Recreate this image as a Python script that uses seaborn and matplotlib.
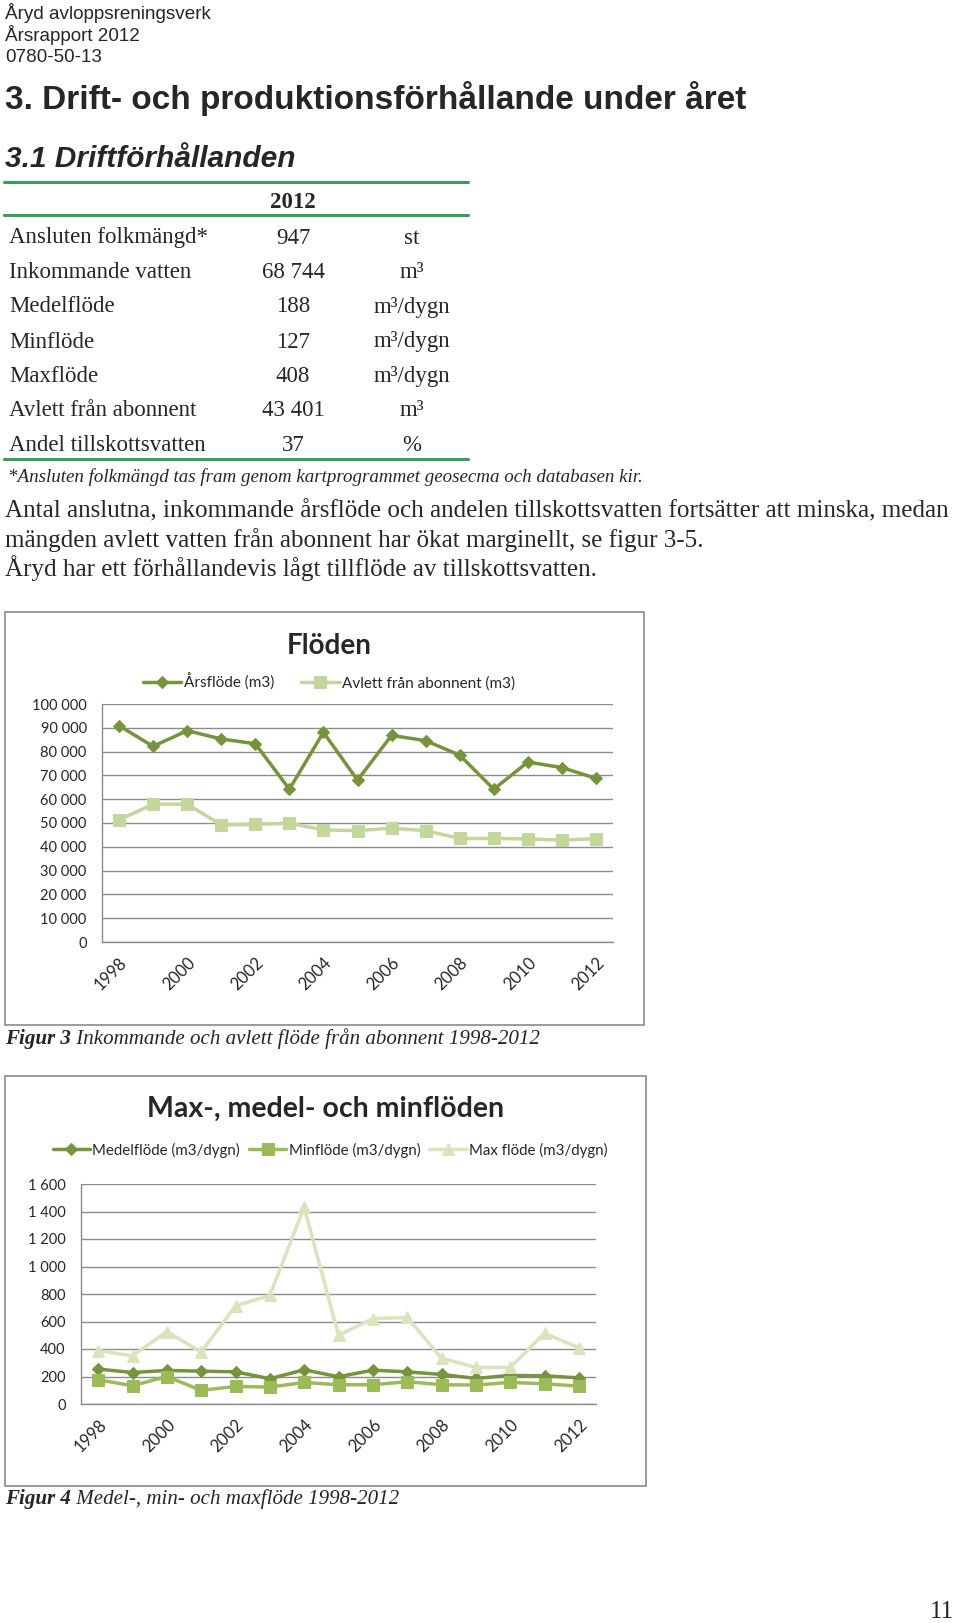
import numpy as np
import pandas as pd
import matplotlib
matplotlib.use("Agg")
import matplotlib.pyplot as plt
import seaborn as sns
from matplotlib.patches import Rectangle
from matplotlib.lines import Line2D
from matplotlib.ticker import FuncFormatter, FixedLocator

# ---------------- data ----------------
header_lines = ["Åryd avloppsreningsverk", "Årsrapport 2012", "0780-50-13"]
heading = "3. Drift- och produktionsförhållande under året"
subheading = "3.1 Driftförhållanden"

table_year = "2012"
table_labels = ["Ansluten folkmängd*", "Inkommande vatten", "Medelflöde", "Minflöde",
                "Maxflöde", "Avlett från abonnent", "Andel tillskottsvatten"]
table_values = ["947", "68 744", "188", "127", "408", "43 401", "37"]
table_units = ["st", "m³", "m³/dygn", "m³/dygn", "m³/dygn", "m³", "%"]
footnote = "*Ansluten folkmängd tas fram genom kartprogrammet geosecma och databasen kir."
paragraph = ["Antal anslutna, inkommande årsflöde och andelen tillskottsvatten fortsätter att minska, medan",
             "mängden avlett vatten från abonnent har ökat marginellt, se figur 3-5.",
             "Åryd har ett förhållandevis lågt tillflöde av tillskottsvatten."]

years = [1998, 1999, 2000, 2001, 2002, 2003, 2004, 2005, 2006, 2007, 2008, 2009, 2010, 2011, 2012]
year_ticks = [1998, 2000, 2002, 2004, 2006, 2008, 2010, 2012]

arsflode = [90900, 82200, 88800, 85300, 83300, 64200, 88100, 68000, 86800, 84600,
            78500, 64200, 75600, 73300, 68744]
avlett = [51300, 57900, 57900, 49200, 49400, 49900, 47100, 46800, 47800, 46800,
          43500, 43500, 43300, 42800, 43401]

medelflode = [254, 229, 244, 239, 234, 184, 249, 198, 246, 234, 215, 186, 208, 205, 190]
minflode = [176, 133, 200, 99, 128, 123, 157, 140, 140, 162, 140, 138, 157, 147, 130]
maxflode = [389, 350, 527, 377, 713, 790, 1432, 500, 621, 630, 333, 266, 266, 514, 410]

chart1_title = "Flöden"
chart1_labels = ["Årsflöde (m3)", "Avlett från abonnent (m3)"]
chart2_title = "Max-, medel- och minflöden"
chart2_labels = ["Medelflöde (m3/dygn)", "Minflöde (m3/dygn)", "Max flöde (m3/dygn)"]
caption3 = ("Figur 3", " Inkommande och avlett flöde från abonnent 1998-2012")
caption4 = ("Figur 4", " Medel-, min- och maxflöde 1998-2012")
page_no = "11"

# ---------------- style ----------------
sns.set_style("white")
plt.rcParams["font.family"] = ["Liberation Sans", "DejaVu Sans"]

W, H = 960, 1623
fig = plt.figure(figsize=(W / 100, H / 100), dpi=100)
fig.patch.set_facecolor("white")

def fx(x):
    return x / W

def fy(y):
    return 1 - y / H

SANS = ["Liberation Sans", "DejaVu Sans"]
SERIF = ["Liberation Serif", "DejaVu Serif"]
CHART = ["Lato", "DejaVu Sans"]

# header
for txt, y in zip(header_lines, [13, 35, 58]):
    fig.text(fx(5), fy(y), txt, family=SANS, fontsize=13.6, va="center", ha="left")
fig.text(fx(5), fy(98), heading, family=SANS, fontsize=24, fontweight="bold", va="center")
fig.text(fx(5), fy(159), subheading, family=SANS, fontsize=21.5, fontweight="bold",
         style="italic", va="center")

# table
GREEN = "#3a9d5d"
for y in [182, 215, 459]:
    fig.add_artist(Line2D([fx(4), fx(468)], [fy(y), fy(y)], color=GREEN, lw=2.2,
                          transform=fig.transFigure))
fig.text(fx(293), fy(202), table_year, family=SERIF, fontsize=16.5, fontweight="bold",
         ha="center", va="center")
row_y = [238, 272.5, 307, 342, 376.5, 411, 445.5]
for lab, val, unit, y in zip(table_labels, table_values, table_units, row_y):
    fig.text(fx(9), fy(y), lab, family=SERIF, fontsize=16.5, ha="left", va="center")
    fig.text(fx(293), fy(y), val, family=SERIF, fontsize=16.5, ha="center", va="center")
    fig.text(fx(412), fy(y), unit, family=SERIF, fontsize=16.5, ha="center", va="center")
fig.text(fx(8), fy(477), footnote, family=SERIF, fontsize=13.7, style="italic", va="center")

for txt, y in zip(paragraph, [511, 540, 568]):
    fig.text(fx(5), fy(y), txt, family=SERIF, fontsize=18.1, va="center")

# chart boxes
for (x0, y0, x1, y1) in [(5, 612, 644, 1025), (5, 1076, 646, 1486)]:
    fig.add_artist(Rectangle((fx(x0), fy(y1)), fx(x1) - fx(x0), fy(y0) - fy(y1),
                             transform=fig.transFigure, fill=False,
                             edgecolor="#8a8a8a", lw=1.2))

GRID = "#8c8c8c"
DARK = "#77933c"
MID = "#9bbb59"
LIGHT1 = "#c3d69b"
LIGHT2 = "#d7e4bd"

def space_fmt(v, pos):
    return f"{v:,.0f}".replace(",", " ")

def style_axis(ax, ymax, ystep):
    ax.set_xlim(years[0] - 0.5, years[-1] + 0.5)
    ax.set_ylim(0, ymax)
    ax.set_yticks(np.arange(0, ymax + ystep / 2, ystep))
    ax.yaxis.set_major_formatter(FuncFormatter(space_fmt))
    ax.set_xticks(year_ticks)
    ax.set_xticklabels([str(y) for y in year_ticks], rotation=45, ha="right",
                       rotation_mode="anchor", family=CHART, fontsize=12)
    ax.xaxis.set_minor_locator(FixedLocator([y - 0.5 for y in years] + [years[-1] + 0.5]))
    ax.tick_params(axis="x", which="major", length=0, pad=9)
    ax.tick_params(axis="x", which="minor", length=5, color=GRID, width=1)
    ax.tick_params(axis="y", which="major", length=5, color=GRID, width=1, pad=6)
    for lab in ax.get_yticklabels():
        lab.set_family(CHART)
        lab.set_fontsize(10.5)
    ax.grid(axis="y", color=GRID, lw=1)
    ax.grid(axis="x", visible=False)
    for s in ["top", "right"]:
        ax.spines[s].set_visible(False)
    for s in ["left", "bottom"]:
        ax.spines[s].set_color(GRID)
        ax.spines[s].set_linewidth(1)
    ax.set_xlabel("")
    ax.set_ylabel("")
    ax.set_facecolor("none")
    ax.set_axisbelow(True)

# chart 1
df1 = pd.DataFrame({"year": years, "ars": arsflode, "avlett": avlett})
ax1 = fig.add_axes([fx(102), fy(942), fx(613) - fx(102), fy(704) - fy(942)])
sns.lineplot(data=df1, x="year", y="ars", ax=ax1, color=DARK, lw=2.5, marker="D",
             markersize=6, markeredgecolor=DARK, label=chart1_labels[0])
sns.lineplot(data=df1, x="year", y="avlett", ax=ax1, color=LIGHT1, lw=2.5, marker="s",
             markersize=8, markeredgecolor=LIGHT1, label=chart1_labels[1])
style_axis(ax1, 100000, 10000)
ax1.legend(loc="center", bbox_to_anchor=(fx(329), fy(682)), bbox_transform=fig.transFigure,
           ncol=2, frameon=False, prop={"family": CHART, "size": 11}, handlelength=2.5,
           handletextpad=0.15, columnspacing=1.8)
fig.text(fx(329), fy(646), chart1_title, family=CHART, fontsize=20, fontweight="bold",
         ha="center", va="center")

# chart 2
df2 = pd.DataFrame({"year": years, "medel": medelflode, "min": minflode, "max": maxflode})
ax2 = fig.add_axes([fx(81), fy(1404), fx(596) - fx(81), fy(1184) - fy(1404)])
sns.lineplot(data=df2, x="year", y="medel", ax=ax2, color=DARK, lw=2.5, marker="D",
             markersize=6, markeredgecolor=DARK, label=chart2_labels[0])
sns.lineplot(data=df2, x="year", y="min", ax=ax2, color=MID, lw=2.5, marker="s",
             markersize=8, markeredgecolor=MID, label=chart2_labels[1])
sns.lineplot(data=df2, x="year", y="max", ax=ax2, color=LIGHT2, lw=2.5, marker="^",
             markersize=8, markeredgecolor=LIGHT2, label=chart2_labels[2])
style_axis(ax2, 1600, 200)
ax2.legend(loc="center", bbox_to_anchor=(fx(330), fy(1150)), bbox_transform=fig.transFigure,
           ncol=3, frameon=False, prop={"family": CHART, "size": 10.8}, handlelength=2.5,
           handletextpad=0.15, columnspacing=0.6)
fig.text(fx(326), fy(1109), chart2_title, family=CHART, fontsize=20.5, fontweight="bold",
         ha="center", va="center")

# captions
fig.canvas.draw()
renderer = fig.canvas.get_renderer()
for (bold, rest), y in [(caption3, 1039), (caption4, 1499)]:
    t = fig.text(fx(5), fy(y), bold, family=SERIF, fontsize=15.1, fontweight="bold",
                 style="italic", va="center")
    bb = t.get_window_extent(renderer)
    fig.text(bb.x1 / W, fy(y), rest, family=SERIF, fontsize=15.1, style="italic", va="center")

fig.text(fx(954), fy(1612), page_no, family=SERIF, fontsize=18, ha="right", va="center")

fig.savefig("out.png", dpi=100, facecolor="white")
